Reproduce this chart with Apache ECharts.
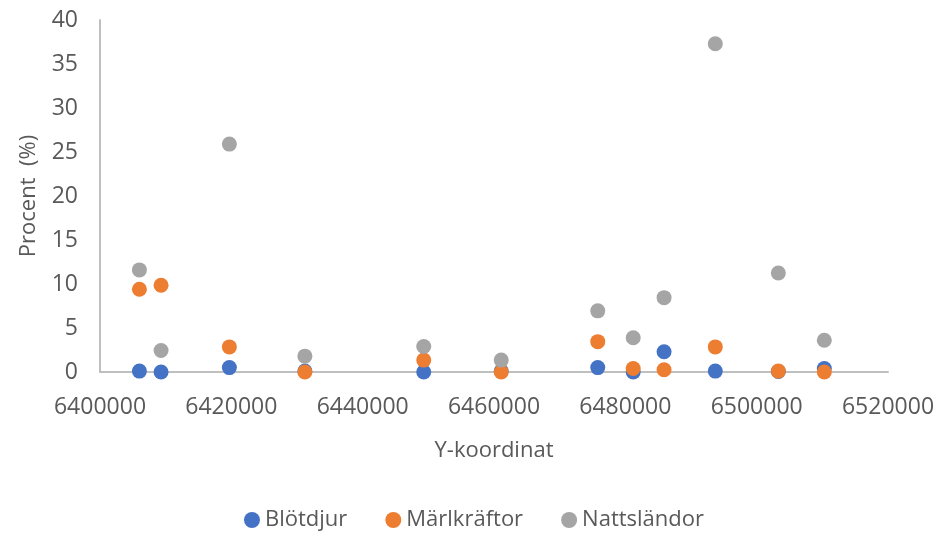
<!DOCTYPE html>
<html>
<head>
<meta charset="utf-8">
<script src="https://cdn.jsdelivr.net/npm/echarts@6/dist/echarts.min.js"></script>
<style>
  html, body { margin: 0; padding: 0; background: #fff; }
  #chart { width: 948px; height: 536px; }
</style>
</head>
<body>
<div id="chart"></div>
<script>
// Sampling sites (Y-koordinat) and share of each group in percent
const yKoordinat = [6406000, 6409300, 6419700, 6431200, 6449300, 6461100, 6475800, 6481200, 6485900, 6493700, 6503300, 6510300];
const blotdjur    = [0.1, 0, 0.5, 0.1, 0, 0.1, 0.5, 0, 2.3, 0.1, 0.05, 0.4];
const marlkraftor = [9.4, 9.85, 2.85, 0, 1.35, 0, 3.45, 0.4, 0.25, 2.85, 0.1, 0];
const nattslandor = [11.6, 2.45, 25.9, 1.8, 2.9, 1.35, 6.95, 3.9, 8.45, 37.3, 11.25, 3.6];
const seriesNames = ['Blötdjur', 'Märlkräftor', 'Nattsländor'];
const seriesColors = ['#4472C4', '#ED7D31', '#A5A5A5'];

const pairs = vals => yKoordinat.map((x, i) => [x, vals[i]]);
const font = '"Open Sans", "Noto Sans", sans-serif';
const textGray = '#595959';
const axisGray = '#BFBFBF';

const chart = echarts.init(document.getElementById('chart'), null, { renderer: 'canvas' });
const scatter = (name, vals) => ({
  name,
  type: 'scatter',
  symbolSize: 15,
  itemStyle: { opacity: 1 },
  emphasis: { disabled: true },
  data: pairs(vals)
});
chart.setOption({
  animation: false,
  color: seriesColors,
  textStyle: { fontFamily: font },
  grid: { left: 100, right: 60, top: 20, bottom: 164, containLabel: false },
  legend: {
    bottom: 0,
    left: 'center',
    icon: 'circle',
    itemWidth: 16,
    itemHeight: 16,
    itemGap: 38,
    itemStyle: { opacity: 1 },
    textStyle: { fontSize: 22, color: textGray, fontFamily: font },
    data: seriesNames
  },
  xAxis: {
    type: 'value',
    min: 6400000,
    max: 6520000,
    interval: 20000,
    name: 'Y-koordinat',
    nameLocation: 'middle',
    nameGap: 68,
    nameTextStyle: { fontSize: 22, color: textGray },
    axisLine: { show: true, lineStyle: { color: axisGray, width: 2 } },
    axisTick: { show: false },
    splitLine: { show: false },
    axisLabel: { fontSize: 23, color: textGray, margin: 24, formatter: v => String(v) }
  },
  yAxis: {
    type: 'value',
    min: 0,
    max: 40,
    interval: 5,
    name: 'Procent  (%)',
    nameLocation: 'middle',
    nameGap: 60,
    nameRotate: 90,
    nameTextStyle: { fontSize: 22, color: textGray },
    axisLine: { show: true, lineStyle: { color: axisGray, width: 2 } },
    axisTick: { show: false },
    splitLine: { show: false },
    axisLabel: { fontSize: 23, color: textGray, margin: 22 }
  },
  series: [
    scatter(seriesNames[0], blotdjur),
    scatter(seriesNames[1], marlkraftor),
    scatter(seriesNames[2], nattslandor)
  ]
});
</script>
</body>
</html>
